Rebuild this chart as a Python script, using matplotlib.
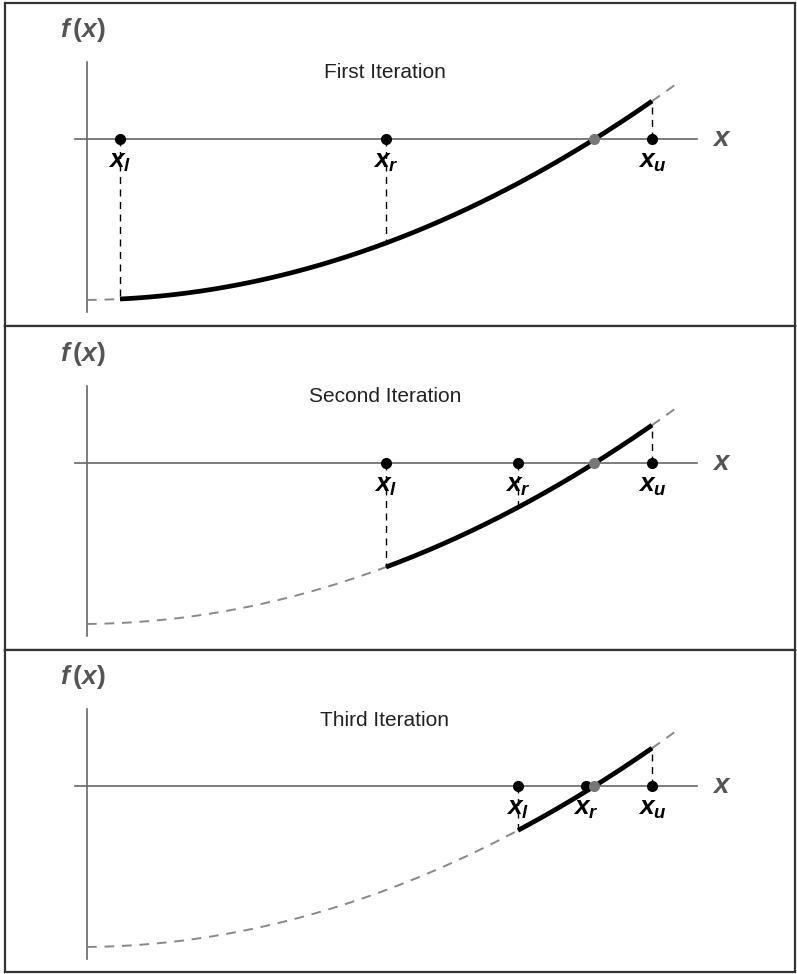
import numpy as np
import matplotlib
matplotlib.use("Agg")
import matplotlib.pyplot as plt

plt.rcParams['font.family'] = ['Liberation Sans', 'DejaVu Sans']
plt.rcParams['mathtext.fontset'] = 'custom'
plt.rcParams['mathtext.rm'] = 'Liberation Sans:bold'
plt.rcParams['mathtext.it'] = 'Liberation Sans:bold:italic'
plt.rcParams['mathtext.bf'] = 'Liberation Sans:bold'

# ---- data ----
titles = ["First Iteration", "Second Iteration", "Third Iteration"]
x_lower = [0.33, 2.99, 4.31]
x_mid = [2.99, 4.31, 4.99]
x_upper = [5.65, 5.65, 5.65]
root_x = 5.07
curve_coef = [0.0607, 0.00894, -1.6096]   # f(x) = a x^2 + b x + c
curve_start = 0.0
curve_end = 5.93
point_labels = [r"$x_l$", r"$x_r$", r"$x_u$"]

f = np.poly1d(curve_coef)

W, H = 797, 974
fig = plt.figure(figsize=(W / 100, H / 100), dpi=100)

panels_px = [(3, 326), (326, 650), (650, 972)]
left_px, right_px = 5, 795
axis_row_px = [139, 463, 786]

for i, (top, bot) in enumerate(panels_px):
    ax = fig.add_axes([left_px / W, 1 - bot / H, (right_px - left_px) / W, (bot - top) / H])
    x0 = axis_row_px[i]
    ax.set_xlim((left_px - 87) / 100, (right_px - 87) / 100)
    ax.set_ylim((x0 - bot) / 100, (x0 - top) / 100)
    ax.set_xticks([]); ax.set_yticks([])
    for s in ax.spines.values():
        s.set_color('#333333'); s.set_linewidth(1.6)

    # axes
    ax.plot([-0.12, 6.10], [0, 0], color='#666666', lw=1.2, zorder=1)
    ax.plot([0, 0], [-1.73, 0.77], color='#666666', lw=1.2, zorder=1)
    ax.text(6.35, 0.0, r"$x$", color='#555555', fontsize=20, ha='center', va='center')
    ax.text(-0.04, 1.09, r"$f\,(x)$", color='#555555', fontsize=19, ha='center', va='center')

    xl, xr, xu = x_lower[i], x_mid[i], x_upper[i]
    # dashed extension of curve
    xs_left = np.linspace(curve_start, xl, 60)
    xs_right = np.linspace(xu, curve_end, 20)
    ax.plot(xs_left, f(xs_left), color='#888888', lw=1.4, dashes=(5, 4), zorder=2)
    ax.plot(xs_right, f(xs_right), color='#888888', lw=1.4, dashes=(5, 4), zorder=2)
    # solid active bracket
    xs = np.linspace(xl, xu, 200)
    ax.plot(xs, f(xs), color='black', lw=3.4, solid_capstyle='butt', zorder=3)

    # vertical dashed drop lines
    for xp in (xl, xr, xu):
        ax.plot([xp, xp], [0, f(xp)], color='black', lw=1.0, dashes=(5, 4), zorder=2)

    # points
    ax.plot([xl, xr, xu], [0, 0, 0], 'o', color='black', ms=7, zorder=4)
    ax.plot([root_x], [0], 'o', color='#777777', ms=7, zorder=4)

    for xp, lab in zip((xl, xr, xu), point_labels):
        ax.text(xp, -0.23, lab, fontsize=19, ha='center', va='center', color='black', zorder=5)

    ax.text(2.98, 0.66, titles[i], fontsize=15, ha='center', va='center', color='#222222')

fig.savefig("out.png", dpi=100)
